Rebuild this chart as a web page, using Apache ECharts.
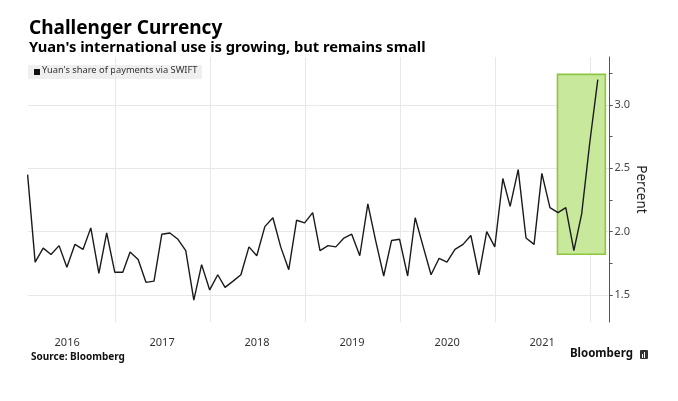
<!DOCTYPE html>
<html>
<head>
<meta charset="utf-8">
<script src="https://cdn.jsdelivr.net/npm/echarts@6/dist/echarts.min.js"></script>
<style>
html,body{margin:0;padding:0;background:#fff;}
#chart{width:678px;height:401px;}
</style>
</head>
<body>
<div id="chart"></div>
<script>
// ---- Data (Yuan's share of payments via SWIFT, %, monthly, Jan 2016 - Jan 2022) ----
const years = [2016, 2017, 2018, 2019, 2020, 2021, 2022];
const share2016 = [2.45, 1.76, 1.87, 1.82, 1.89, 1.72, 1.90, 1.86, 2.03, 1.67, 1.99, 1.68];
const share2017 = [1.68, 1.84, 1.78, 1.60, 1.61, 1.98, 1.99, 1.94, 1.85, 1.46, 1.74, 1.54];
const share2018 = [1.66, 1.56, 1.61, 1.66, 1.88, 1.81, 2.04, 2.11, 1.88, 1.70, 2.09, 2.07];
const share2019 = [2.15, 1.85, 1.89, 1.88, 1.95, 1.98, 1.81, 2.22, 1.93, 1.65, 1.93, 1.94];
const share2020 = [1.65, 2.11, 1.88, 1.66, 1.79, 1.76, 1.86, 1.90, 1.97, 1.66, 2.00, 1.88];
const share2021 = [2.42, 2.20, 2.49, 1.95, 1.90, 2.46, 2.19, 2.15, 2.19, 1.85, 2.14, 2.70];
const share2022 = [3.20];
const seriesName = "Yuan's share of payments via SWIFT";
const yLabelValues = [1.5, 2.0, 2.5, 3.0];
const yMinorTicks = [1.5, 1.75, 2.0, 2.25, 2.5, 2.75, 3.0, 3.25];
const yearStarts = ['2017-01-01', '2018-01-01', '2019-01-01', '2020-01-01', '2021-01-01', '2022-01-01'];
const yearLabelPos = ['2016-07-01', '2017-07-01', '2018-07-01', '2019-07-01', '2020-07-01', '2021-07-01'];
const xStart = '2016-01-31';
const xEnd = '2022-03-17';
// highlighted period (box)
const highlightFrom = '2021-08-29';
const highlightTo = '2022-03-01';
const highlightLow = 1.822;
const highlightHigh = 3.242;

const ts = s => { const p = s.split('-').map(Number); return Date.UTC(p[0], p[1] - 1, p[2]); };

// build [time, value] pairs, dated at month end
const perYear = [share2016, share2017, share2018, share2019, share2020, share2021, share2022];
const points = [];
perYear.forEach((vals, yi) => {
  vals.forEach((v, m) => {
    points.push([Date.UTC(years[yi], m + 1, 0), v]);
  });
});

const FONT = 'Noto Sans';
const chart = echarts.init(document.getElementById('chart'), null, {renderer: 'canvas'});
const option = {
  animation: false,
  backgroundColor: '#ffffff',
  grid: {left: 27.6, right: 68.5, top: 57, bottom: 79, containLabel: false},
  xAxis: {
    type: 'value',
    min: ts(xStart),
    max: ts(xEnd),
    axisLine: {show: false},
    axisTick: {show: false, customValues: yearStarts.map(ts)},
    splitLine: {show: true, lineStyle: {color: '#e8e8e8', width: 1}},
    axisLabel: {
      customValues: yearLabelPos.map(ts),
      formatter: v => String(new Date(v).getUTCFullYear()),
      color: '#333', fontFamily: FONT, fontSize: 11, margin: 15
    }
  },
  yAxis: [{
    type: 'value',
    position: 'right',
    min: 1.287, max: 3.379,
    axisLine: {show: true, lineStyle: {color: '#555', width: 1}},
    axisTick: {show: true, customValues: yLabelValues, length: 3, lineStyle: {color: '#555'}},
    axisLabel: {customValues: yLabelValues, formatter: v => v.toFixed(1), color: '#444', fontFamily: FONT, fontSize: 11, margin: 5},
    splitLine: {show: true, lineStyle: {color: '#e8e8e8', width: 1}},
    name: 'Percent', nameLocation: 'middle', nameRotate: -90, nameGap: 24,
    nameMoveOverlap: false,
    nameTextStyle: {fontFamily: FONT, fontSize: 13.5, color: '#222'}
  }, {
    type: 'value',
    position: 'right',
    min: 1.287, max: 3.379,
    axisLine: {show: false},
    axisTick: {show: true, customValues: yMinorTicks, length: 3, lineStyle: {color: '#555'}},
    axisLabel: {show: false},
    splitLine: {show: false}
  }],
  series: [{
    name: seriesName,
    type: 'line',
    yAxisIndex: 0,
    data: points,
    showSymbol: false,
    symbol: 'none',
    lineStyle: {color: '#1a1a1a', width: 1.4},
    z: 5,
    markArea: {
      silent: true,
      itemStyle: {color: '#c8e99c', borderColor: '#8dc63f', borderWidth: 1.6},
      data: [[{coord: [ts(highlightFrom), highlightHigh]}, {coord: [ts(highlightTo), highlightLow]}]]
    }
  }],
  graphic: [
    {type: 'text', left: 29, top: 19, style: {text: 'Challenger Currency', font: 'bold 19px "' + FONT + '"', fill: '#000'}},
    {type: 'text', left: 29, top: 40, style: {text: "Yuan's international use is growing, but remains small", font: 'bold 14.7px "' + FONT + '"', fill: '#000'}},
    {type: 'rect', left: 28, top: 65, shape: {width: 174, height: 14}, style: {fill: '#efefef'}},
    {type: 'rect', left: 34, top: 69, shape: {width: 6, height: 6}, style: {fill: '#111'}},
    {type: 'text', left: 42, top: 66, style: {text: seriesName, font: '9.3px "' + FONT + '"', fill: '#333'}},
    {type: 'text', left: 31, top: 352, style: {text: 'Source: Bloomberg', font: 'bold 10px "' + FONT + '"', fill: '#111'}},
    {type: 'text', right: 45, top: 348, style: {text: 'Bloomberg', font: 'bold 11.5px "' + FONT + '"', fill: '#111'}},
    {type: 'rect', left: 640, top: 350, shape: {width: 8, height: 9, r: 1}, style: {fill: '#333'}},
    {type: 'rect', left: 642, top: 354, shape: {width: 1, height: 4}, style: {fill: '#fff'}},
    {type: 'rect', left: 644, top: 352, shape: {width: 1, height: 6}, style: {fill: '#fff'}}
  ]
};
chart.setOption(option);
</script>
</body>
</html>
